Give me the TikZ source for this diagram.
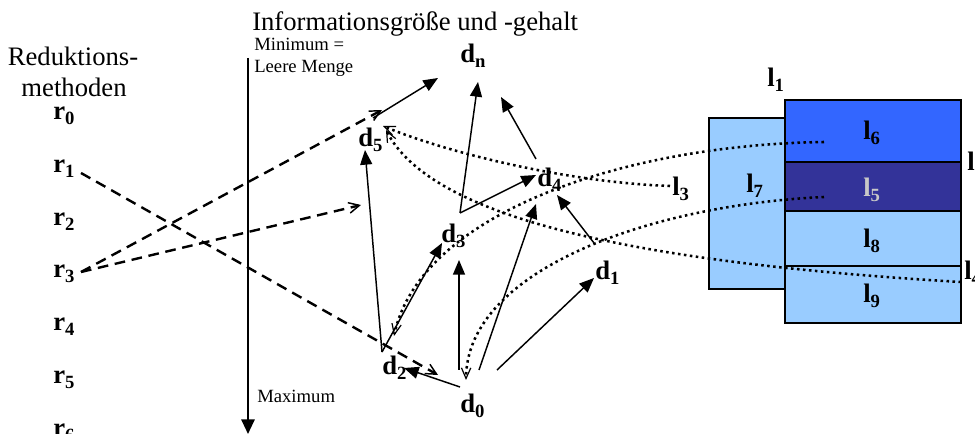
\documentclass[tikz,border=0pt]{standalone}
\usepackage{fontspec}
\setmainfont{Liberation Serif}
\usetikzlibrary{arrows.meta}

\definecolor{paleblue}{HTML}{99CCFF}
\definecolor{brightblue}{HTML}{3366FF}
\definecolor{deepnavy}{HTML}{333399}
\definecolor{softgray}{HTML}{C8C8C8}

\begin{document}
\begin{tikzpicture}[x=0.75pt,y=-0.75pt,
  heading/.style={font=\fontsize{20}{24}\selectfont, inner sep=0pt},
  note/.style={font=\fontsize{14}{17}\selectfont, inner sep=0pt},
  sym/.style={font=\fontsize{20}{24}\selectfont\bfseries, inner sep=0pt},
  solidarrow/.style={line width=1.1pt, -{Triangle[length=11pt,width=9pt]}},
  dashedarrow/.style={line width=1.8pt, dash pattern=on 8pt off 5pt,
    -{Straight Barb[length=8pt,width=8pt,line width=1.1pt]}},
  dottedarrow/.style={line width=1.9pt, dash pattern=on 1.9pt off 2.6pt,
    -{Straight Barb[length=8pt,width=7pt,line width=0.9pt]}},
  boxframe/.style={draw=black, line width=2.2pt}
]
\useasboundingbox (0,0) rectangle (975,434);

% ---- headings -------------------------------------------------------
\node[heading, anchor=base] (red1) at (73,66) {Reduktions-};
\node[heading, anchor=base] (red2) at (74,97) {methoden};
\node[heading, anchor=base west] (title) at (252,31) {Informationsgröße und -gehalt};
\node[note, anchor=base west] (minA) at (254,51) {Minimum =};
\node[note, anchor=base west] (minB) at (254,73) {Leere Menge};
\node[note, anchor=base west] (maxi) at (257,403) {Maximum};

% ---- information axis -------------------------------------------------
\coordinate (axtop) at (248,58);
\coordinate (axbot) at (248,434);
\draw[line width=1.5pt, -{Triangle[length=11pt,width=10pt]}] (axtop) -- (axbot);

% ---- reduction methods -------------------------------------------------
\foreach \i/\yy in {0/120,1/173,2/226,3/278,4/331,5/384,6/437}
  \node[sym, anchor=base west] (r\i) at (53,\yy) {r\textsubscript{\i}};

% ---- data states -------------------------------------------------------
\node[sym, anchor=base west] (dn) at (460,63) {d\textsubscript{n}};
\node[sym, anchor=base west] (d5) at (358,147) {d\textsubscript{5}};
\node[sym, anchor=base west] (d4) at (537,187) {d\textsubscript{4}};
\node[sym, anchor=base west] (d3) at (441,243) {d\textsubscript{3}};
\node[sym, anchor=base west] (d1) at (595,280) {d\textsubscript{1}};
\node[sym, anchor=base west] (d2) at (382,375) {d\textsubscript{2}};
\node[sym, anchor=base west] (d0) at (460,413) {d\textsubscript{0}};

% ---- layer boxes -------------------------------------------------------
\fill[paleblue] (709,118) rectangle (785,289);
\draw[boxframe] (709,118) rectangle (785,289);
\fill[brightblue] (785,100) rectangle (961,162);
\fill[deepnavy] (785,162) rectangle (961,211);
\fill[paleblue] (785,211) rectangle (961,323);
\draw[line width=1.2pt] (785,162) -- (961,162);
\draw[line width=2.2pt] (785,211) -- (961,211);
\draw[line width=1.2pt] (785,266) -- (961,266);
\draw[boxframe] (785,100) rectangle (961,323);

\node[sym, anchor=base west] (l1) at (767,87) {l\textsubscript{1}};
\node[sym, anchor=base west] (l6) at (863,140) {l\textsubscript{6}};
\node[sym, anchor=base west, text=softgray] (l5) at (863,197) {l\textsubscript{5}};
\node[sym, anchor=base west] (l8) at (863,248) {l\textsubscript{8}};
\node[sym, anchor=base west] (l9) at (863,303) {l\textsubscript{9}};
\node[sym, anchor=base west] (l7) at (746,193) {l\textsubscript{7}};
\node[sym, anchor=base west] (l3) at (672,196) {l\textsubscript{3}};
\node[sym, anchor=base west] (l2) at (967,171) {l\textsubscript{2}};
\node[sym, anchor=base west] (l4) at (964,280) {l\textsubscript{4}};

% ---- connector end points ---------------------------------------------
\coordinate (r1s) at (81,173);
\coordinate (r3s) at (81,272);
\coordinate (r1e) at (438,375);
\coordinate (r3e) at (382,110);
\coordinate (r3f) at (361,205);

\coordinate (v3) at (460,213);
\coordinate (v2) at (382,352);
\coordinate (dnA) at (478,82);
\coordinate (dnB) at (501,97);
\coordinate (dnC) at (438,78);
\coordinate (d5s) at (373,118);
\coordinate (d5in) at (365,150);
\coordinate (d4in) at (536,175);
\coordinate (d4s) at (536,159);
\coordinate (d4inB) at (536,204);
\coordinate (d4inC) at (557,195);
\coordinate (d3in) at (442,243);
\coordinate (d3inB) at (459,260);
\coordinate (d1in) at (594,278);
\coordinate (d1s) at (594,243);
\coordinate (d2in) at (404,368);
\coordinate (d0a) at (459,370);
\coordinate (d0b) at (479,370);
\coordinate (d0c) at (497,370);
\coordinate (d0d) at (460,387);

\coordinate (l6s) at (824,142);
\coordinate (l5s) at (824,197);
\coordinate (l3s) at (670,186);
\coordinate (l4s) at (961,282);
\coordinate (d2dot) at (394,336);
\coordinate (d0dot) at (466,380);
\coordinate (d5dotA) at (383,126);
\coordinate (d5dotB) at (386,130);

% ---- dashed reductions -------------------------------------------------
\draw[dashedarrow] (r1s) -- (r1e);
\draw[dashedarrow] (r3s) -- (r3e);
\draw[dashedarrow] (r3s) -- (r3f);

% ---- solid transitions -------------------------------------------------
\draw[solidarrow] (v3) -- (dnA);
\draw[solidarrow] (v3) -- (d4in);
\draw[solidarrow] (d4s) -- (dnB);
\draw[solidarrow] (d5s) -- (dnC);
\draw[solidarrow] (v2) -- (d5in);
\draw[solidarrow] (v2) -- (d3in);
\draw[solidarrow] (d0a) -- (d3inB);
\draw[solidarrow] (d0b) -- (d4inB);
\draw[solidarrow] (d0c) -- (d1in);
\draw[solidarrow] (d1s) -- (d4inC);
\draw[solidarrow] (d0d) -- (d2in);

% ---- dotted layer mappings ---------------------------------------------
\draw[dottedarrow] (l6s) .. controls (620,145) and (420,215) .. (d2dot);
\draw[dottedarrow] (l5s) .. controls (650,205) and (467,270) .. (d0dot);
\draw[dottedarrow] (l3s) .. controls (560,182) and (440,150) .. (d5dotA);
\draw[dottedarrow] (l4s) .. controls (620,262) and (430,215) .. (d5dotB);
\end{tikzpicture}
\end{document}
